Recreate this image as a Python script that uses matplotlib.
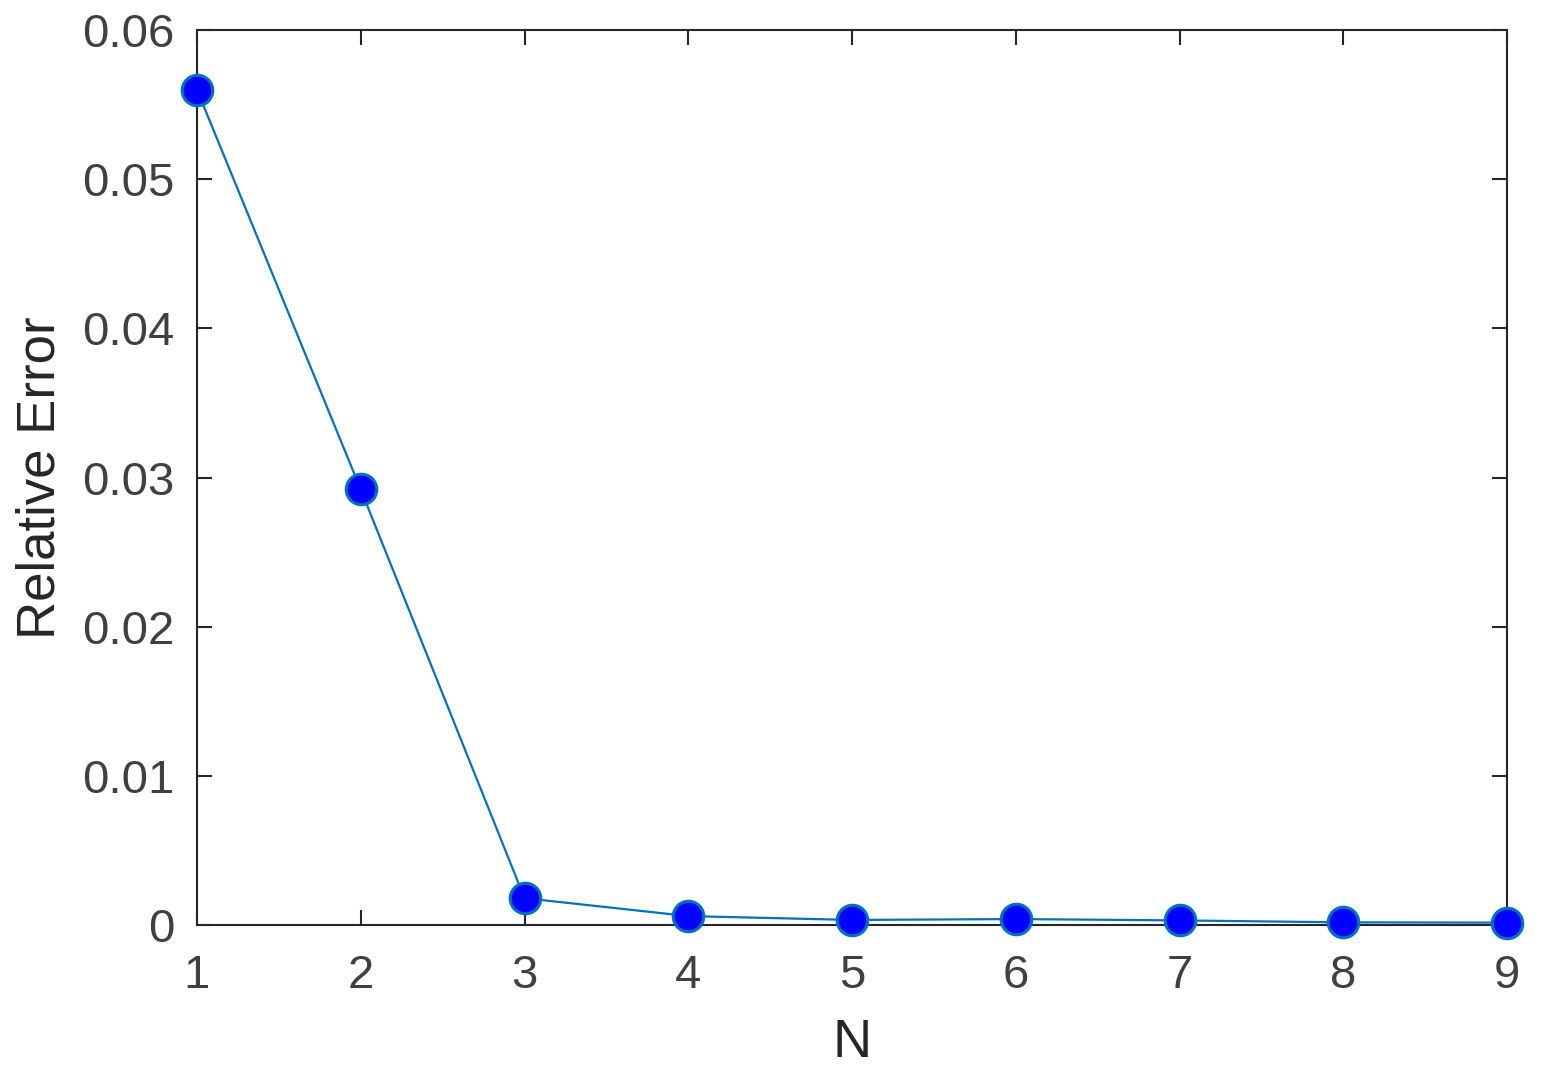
import numpy as np
import matplotlib
matplotlib.use("Agg")
import matplotlib.pyplot as plt

# data
n_vals = [1, 2, 3, 4, 5, 6, 7, 8, 9]
rel_err = [0.0560, 0.0292, 0.00180, 0.00060, 0.00034, 0.00040, 0.00031, 0.00018, 0.00016]

xticks = [1, 2, 3, 4, 5, 6, 7, 8, 9]
yticks = [0, 0.01, 0.02, 0.03, 0.04, 0.05, 0.06]
ytick_labels = ["0", "0.01", "0.02", "0.03", "0.04", "0.05", "0.06"]

plt.rcParams['font.family'] = ['Liberation Sans', 'DejaVu Sans']

fig = plt.figure(figsize=(15.57, 10.92), dpi=100)
ax = fig.add_axes([0.1265, 0.1529, 0.968 - 0.1265, 0.9725 - 0.1529])

ax.plot(n_vals, rel_err, color='#0072BD', lw=1.6, marker='o', ms=22,
        markerfacecolor='#0000FF', markeredgecolor='#0072BD', mew=2.2,
        clip_on=False, zorder=3)

ax.set_xlim(1, 9)
ax.set_ylim(0, 0.06)
ax.set_xticks(xticks)
ax.set_yticks(yticks)
ax.set_yticklabels(ytick_labels)

ax.tick_params(direction='in', length=11, width=1.5, colors='#262626',
               top=True, right=True, labelsize=34, labelcolor='#404040')
ax.tick_params(axis='x', pad=21)
ax.tick_params(axis='y', pad=16)

for s in ax.spines.values():
    s.set_linewidth(1.5)
    s.set_color('#262626')

ax.set_xlabel('N', fontsize=39, color='#262626', labelpad=14)
ax.set_ylabel('Relative Error', fontsize=38, color='#262626', labelpad=12)

fig.savefig('out.png', dpi=100)
